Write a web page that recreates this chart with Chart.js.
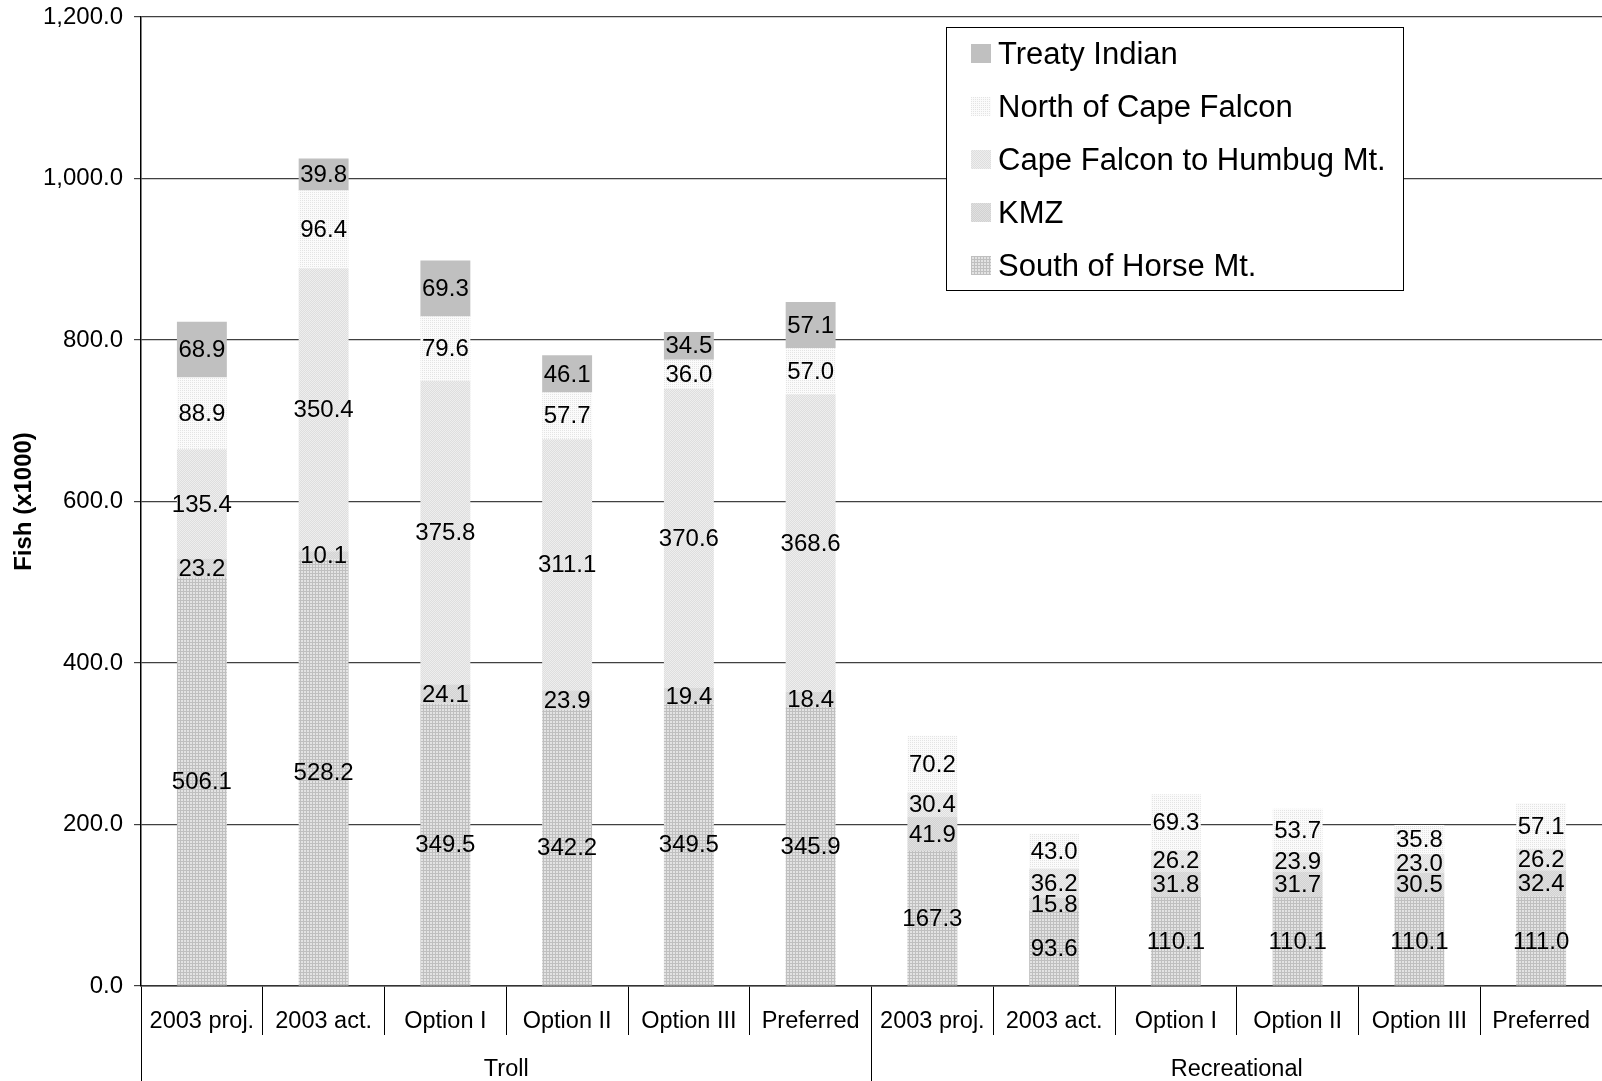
<!DOCTYPE html>
<html>
<head>
<meta charset="utf-8">
<script src="https://cdn.jsdelivr.net/npm/chart.js@4.4.1/dist/chart.umd.min.js"></script>
<style>
  body { margin: 0; background: #fff; }
  #wrap { position: relative; width: 1602px; height: 1081px; }
  #legend {
    position: absolute; left: 946px; top: 27px; width: 458px; height: 264px;
    border: 1px solid #000; background: #fff; box-sizing: border-box;
    font-family: "Liberation Sans", Arial, sans-serif; font-size: 31px; color: #000;
    padding-top: 0px;
  }
  .row { height: 53px; display: flex; align-items: center; padding-left: 24px; margin-top: -1px; margin-bottom: 1px; }
  .row canvas { width: 20px; height: 19px; margin-right: 7px; }
</style>
</head>
<body>
<div id="wrap">
  <canvas id="chart" width="1602" height="1081"></canvas>
  <div id="legend"></div>
</div>
<script>
// categories and groups on the x axis
const categories = ['2003 proj.', '2003 act.', 'Option I', 'Option II', 'Option III', 'Preferred',
                    '2003 proj.', '2003 act.', 'Option I', 'Option II', 'Option III', 'Preferred'];
const groups = ['Troll', 'Recreational'];

// series values, bottom of the stack first
const southHorse = [506.1, 528.2, 349.5, 342.2, 349.5, 345.9, 167.3, 93.6, 110.1, 110.1, 110.1, 111.0];
const kmz        = [23.2, 10.1, 24.1, 23.9, 19.4, 18.4, 41.9, 15.8, 31.8, 31.7, 30.5, 32.4];
const capeHumbug = [135.4, 350.4, 375.8, 311.1, 370.6, 368.6, 30.4, 36.2, 26.2, 23.9, 23.0, 26.2];
const northCape  = [88.9, 96.4, 79.6, 57.7, 36.0, 57.0, 70.2, 43.0, 69.3, 53.7, 35.8, 57.1];
const treaty     = [68.9, 39.8, 69.3, 46.1, 34.5, 57.1, null, null, null, null, null, null];

const seriesNames = ['South of Horse Mt.', 'KMZ', 'Cape Falcon to Humbug Mt.', 'North of Cape Falcon', 'Treaty Indian'];
const seriesValues = [southHorse, kmz, capeHumbug, northCape, treaty];

const FONT = '"Liberation Sans", Arial, sans-serif';

// small pixel patterns like the old excel fills
function makePattern(size, fn) {
  const c = document.createElement('canvas');
  c.width = size; c.height = size;
  const cx = c.getContext('2d');
  for (let y = 0; y < size; y++) {
    for (let x = 0; x < size; x++) {
      cx.fillStyle = fn(x, y);
      cx.fillRect(x, y, 1, 1);
    }
  }
  return cx.createPattern(c, 'repeat');
}
const fills = [
  makePattern(3, (x, y) => (x === 0 || y === 0) ? '#bfbfbf' : '#e3e3e3'),  // south
  makePattern(2, (x, y) => (x + y) % 2 ? '#d2d2d2' : '#e0e0e0'),           // kmz
  makePattern(2, (x, y) => (x + y) % 2 ? '#dedede' : '#eeeeee'),           // cape-humbug
  makePattern(4, (x, y) => (x % 2 === 0 && y % 2 === 0) ? '#e4e4e4' : '#fbfbfb'), // north
  '#c0c0c0'                                                                 // treaty
];

const datasets = seriesNames.map((name, i) => ({
  label: name,
  data: seriesValues[i],
  backgroundColor: fills[i],
  borderWidth: 0,
  barPercentage: 0.41,
  categoryPercentage: 1.0
}));

// numbers in the middle of each segment
const valueLabels = {
  id: 'valueLabels',
  afterDatasetsDraw(chart) {
    const ctx = chart.ctx;
    ctx.save();
    ctx.font = '24px ' + FONT;
    ctx.fillStyle = '#000';
    ctx.textAlign = 'center';
    ctx.textBaseline = 'middle';
    chart.data.datasets.forEach((ds, di) => {
      const meta = chart.getDatasetMeta(di);
      meta.data.forEach((bar, i) => {
        const v = ds.data[i];
        if (v == null) return;
        ctx.fillText(v.toFixed(1), bar.x, (bar.y + bar.base) / 2 + 1);
      });
    });
    ctx.restore();
  }
};

new Chart(document.getElementById('chart'), {
  type: 'bar',
  data: { labels: categories, datasets: datasets },
  options: {
    responsive: false,
    devicePixelRatio: 1,
    animation: false,
    layout: { padding: { top: 17, right: 0, bottom: 0, left: 0 } },
    plugins: { legend: { display: false }, tooltip: { enabled: false } },
    scales: {
      x: {
        stacked: true,
        afterFit: s => { s.height = 49; },
        grid: { offset: true, drawOnChartArea: false, tickLength: 49, color: '#000', lineWidth: 1 },
        border: { display: true, color: '#333', width: 1.5 },
        ticks: { padding: -28, color: '#000', font: { family: FONT, size: 23.5 }, maxRotation: 0, autoSkip: false }
      },
      x2: {
        type: 'category',
        labels: groups,
        position: 'bottom',
        afterFit: s => { s.height = 46; },
        grid: { offset: true, drawOnChartArea: false, tickLength: 46, color: '#000', lineWidth: 1 },
        border: { display: false },
        ticks: { padding: -26, color: '#000', font: { family: FONT, size: 23.5 }, maxRotation: 0 }
      },
      y: {
        stacked: true,
        min: 0, max: 1200,
        afterFit: s => { s.width = 141; s.paddingTop = 0; s.paddingBottom = 0; },
        grid: { color: '#404040', lineWidth: 1.2, tickLength: 7 },
        border: { display: true, color: '#000', width: 1.5 },
        ticks: {
          stepSize: 200, padding: 11, color: '#000',
          font: { family: FONT, size: 24 },
          callback: v => v.toLocaleString('en-US', { minimumFractionDigits: 1, maximumFractionDigits: 1 })
        },
        title: {
          display: true, text: 'Fish (x1000)', color: '#000',
          font: { family: FONT, size: 24, weight: 'bold' },
          padding: { top: 10, bottom: 0 }
        }
      }
    }
  },
  plugins: [valueLabels]
});

// legend box, top series first
const legend = document.getElementById('legend');
for (let i = seriesNames.length - 1; i >= 0; i--) {
  const row = document.createElement('div');
  row.className = 'row';
  const sw = document.createElement('canvas');
  sw.width = 20; sw.height = 19;
  const sx = sw.getContext('2d');
  sx.fillStyle = fills[i];
  sx.fillRect(0, 0, 20, 19);
  const txt = document.createElement('span');
  txt.textContent = seriesNames[i];
  row.appendChild(sw);
  row.appendChild(txt);
  legend.appendChild(row);
}
</script>
</body>
</html>
